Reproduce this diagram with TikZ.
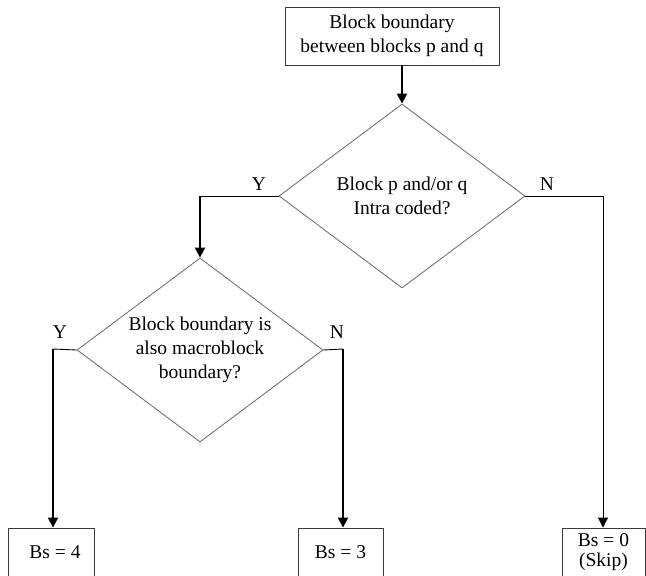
\documentclass[tikz,border=0pt]{standalone}
\usepackage{fontspec}
\setmainfont{Liberation Serif}
\usetikzlibrary{positioning,arrows.meta,shapes.geometric}
\definecolor{EdgeGray}{RGB}{105,105,105}
\definecolor{BoxGray}{RGB}{60,60,60}

\begin{document}
\begin{tikzpicture}[x=1pt,y=-1pt,
    font=\fontsize{19.5}{24}\selectfont,
    blockbox/.style={draw=BoxGray,line width=0.9pt,inner sep=0pt,align=center,minimum height=48pt},
    decision/.style={diamond,draw=EdgeGray,line width=0.8pt,inner sep=0pt,align=center,
      aspect=1.34,minimum width=246pt,minimum height=184pt},
    feed/.style={line width=0.9pt},
    flowarrow/.style={line width=1.9pt,-{Triangle[length=10pt,width=10pt]}},
    thinarrow/.style={line width=0.9pt,-{Triangle[length=10pt,width=10pt]}}]
\useasboundingbox (0,0) rectangle (646,576);

% boxes and decisions
\node[blockbox,minimum width=214pt,minimum height=58pt] (start) at (392,36) {Block boundary\\between blocks p and q};
\node[decision] (intra) at (402,196) {Block p and/or q\\Intra coded?};
\node[decision] (mbedge) at (200,350) {Block boundary is\\also macroblock\\boundary?};
\node[blockbox,minimum width=86pt] (bsfour) at (51,552) {\hspace*{8pt}Bs = 4};
\node[blockbox,minimum width=85pt] (bsthree) at (340.5,552) {Bs = 3};
\node[blockbox,minimum width=83pt,font=\fontsize{19.5}{20.5}\selectfont] (bszero) at (603.5,552) {Bs = 0\\(Skip)};

% bends
\coordinate (yturn) at (200,196);
\coordinate (nturn) at (603,196);
\coordinate (yturnb) at (53,349);
\coordinate (nturnb) at (343,349);

% connectors
\draw[flowarrow] (start.south -| intra.north) -- (intra.north);
\draw[feed] (intra.west) -- (yturn);
\draw[flowarrow] (yturn) -- (mbedge.north);
\draw[feed] (intra.east) -- (nturn);
\draw[thinarrow] (nturn) -- (nturn |- bszero.north);
\draw[feed] (mbedge.west) -- (yturnb);
\draw[flowarrow] (yturnb) -- (yturnb |- bsfour.north);
\draw[feed] (mbedge.east) -- (nturnb);
\draw[flowarrow] (nturnb) -- (nturnb |- bsthree.north);

% branch labels
\node (yone) at (259,184) {Y};
\node (none) at (547,184) {N};
\node (ytwo) at (60,332) {Y};
\node (ntwo) at (337,332) {N};
\end{tikzpicture}
\end{document}
